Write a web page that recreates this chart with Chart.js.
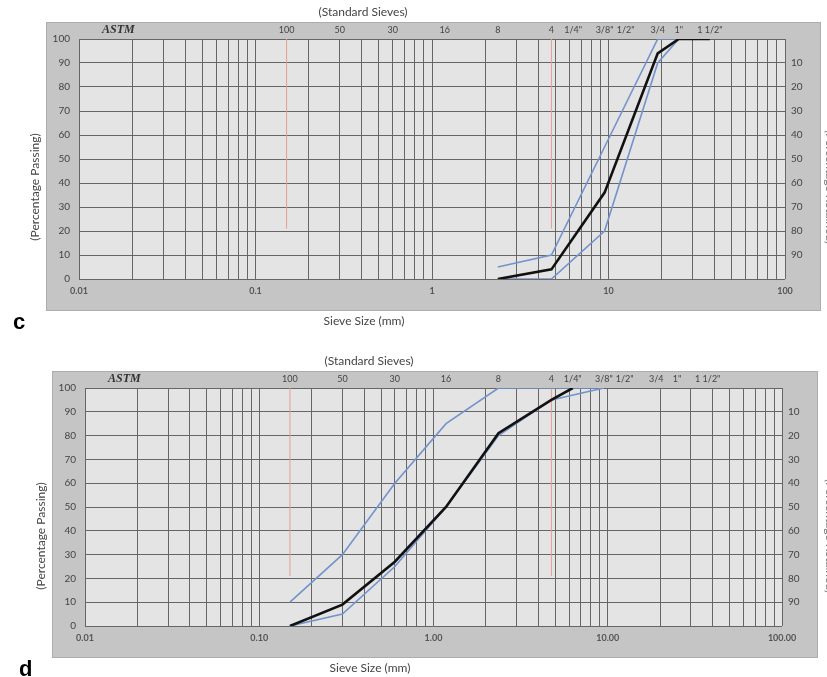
<!DOCTYPE html>
<html>
<head>
<meta charset="utf-8">
<script src="https://cdn.jsdelivr.net/npm/chart.js"></script>
<style>
  body { margin: 0; background: #fff; width: 827px; height: 677px; overflow: hidden; }
  .panel { position: absolute; left: 0; }
</style>
</head>
<body>
<div class="panel" style="top:0"><canvas id="chartC" width="827" height="340"></canvas></div>
<div class="panel" style="top:340px"><canvas id="chartD" width="827" height="337"></canvas></div>
<script>
// ASTM sieve openings (mm) and their names on the top axis
const sieveSizes = [0.15, 0.3, 0.6, 1.18, 2.36, 4.75, 6.3, 9.5, 12.5, 19, 25, 37.5];
const sieveLabels = ['100', '50', '30', '16', '8', '4', '1/4"', '3/8"', '1/2"', '3/4', '1"', '1 1/2"'];

// bottom axis: decades and their labels
const decades = [0.01, 0.1, 1, 10, 100];
const decadeLabelsC = ['0.01', '0.1', '1', '10', '100'];
const decadeLabelsD = ['0.01', '0.10', '1.00', '10.00', '100.00'];
const minorSteps = [1, 2, 3, 4, 5, 6, 7, 8, 9];

const passingTicks = [0, 10, 20, 30, 40, 50, 60, 70, 80, 90, 100];
const retainedTicks = [10, 20, 30, 40, 50, 60, 70, 80, 90];

// chart c - coarse aggregate
const sizesC = [2.36, 4.75, 9.5, 19, 25, 37.5];
const passingC = [0, 4, 36, 94, 100, 100];
const limitSizesC = [2.36, 4.75, 9.5, 19, 25];
const upperC = [5, 10, 55, 100, 100];
const lowerC = [0, 0, 20, 90, 100];

// chart d - fine aggregate
const sizesD = [0.15, 0.3, 0.6, 1.18, 2.36, 4.75, 6.3];
const passingD = [0, 9, 27, 50, 81, 95, 100];
const limitSizesD = [0.15, 0.3, 0.6, 1.18, 2.36, 4.75, 9.5];
const upperD = [10, 30, 60, 85, 100, 100, 100];
const lowerD = [0, 5, 25, 50, 80, 95, 100];

// red marker lines (#100 and #4 sieves)
const markerSizes = [0.15, 4.75];
const markerRange = [21, 100];

const gridValues = [];
decades.slice(0, 4).forEach(d => minorSteps.forEach(m => gridValues.push(d * m)));
gridValues.push(100);

const pts = (xs, ys) => xs.map((x, i) => ({ x: x, y: ys[i] }));

const framePlugin = {
  id: 'frame',
  beforeDraw(chart, args, o) {
    const ctx = chart.ctx, a = chart.chartArea;
    ctx.save();
    ctx.fillStyle = '#c5c5c5';
    ctx.fillRect(a.left - 33, a.top - 17, a.width + 69, a.height + 49);
    ctx.strokeStyle = '#adadad';
    ctx.lineWidth = 1;
    ctx.strokeRect(a.left - 32.5, a.top - 16.5, a.width + 68, a.height + 48);
    ctx.fillStyle = '#e4e4e4';
    ctx.fillRect(a.left, a.top, a.width, a.height);
    ctx.restore();
  },
  afterDraw(chart, args, o) {
    const ctx = chart.ctx, a = chart.chartArea;
    ctx.save();
    ctx.fillStyle = '#333';
    ctx.font = 'italic bold 12px "Liberation Serif"';
    ctx.textBaseline = 'middle';
    ctx.fillText('ASTM', a.left + 23, a.top - 9);

    ctx.fillStyle = '#444';
    ctx.font = '12px Lato';
    ctx.textAlign = 'center';
    ctx.fillText('(Standard Sieves)', a.left + 284, a.top - 27);
    ctx.fillText('Sieve Size (mm)', a.left + 285, a.bottom + 42);

    ctx.save();
    ctx.translate(a.left - 44, a.top + 148);
    ctx.rotate(-Math.PI / 2);
    ctx.fillText('(Percentage Passing)', 0, 0);
    ctx.restore();

    ctx.save();
    ctx.fillStyle = '#777';
    ctx.translate(830, a.top + 148);
    ctx.rotate(Math.PI / 2);
    ctx.fillText('(Percentage Retained)', 0, 0);
    ctx.restore();

    ctx.fillStyle = '#000';
    ctx.font = 'bold 22px "Liberation Sans"';
    ctx.textAlign = 'left';
    ctx.fillText(o.panel, a.left - 66, a.bottom + 44);
    ctx.restore();
  }
};

function makeChart(id, cfg) {
  const datasets = [
    { data: pts(cfg.sizes, cfg.passing), borderColor: '#111', borderWidth: 2.6, order: 0 },
    { data: pts(cfg.limitSizes, cfg.upper), borderColor: '#7393cc', borderWidth: 1.6, order: 1 },
    { data: pts(cfg.limitSizes, cfg.lower), borderColor: '#7393cc', borderWidth: 1.6, order: 1 }
  ];
  markerSizes.forEach(s => datasets.push({
    data: pts([s, s], markerRange), borderColor: '#e39e92', borderWidth: 1, order: 2
  }));

  const gridColor = '#666';
  return new Chart(document.getElementById(id), {
    type: 'line',
    data: { datasets: datasets },
    plugins: [framePlugin],
    options: {
      responsive: false,
      animation: false,
      devicePixelRatio: 1,
      layout: { padding: 0 },
      elements: { point: { radius: 0 }, line: { tension: 0 } },
      plugins: {
        legend: { display: false },
        tooltip: { enabled: false },
        frame: { panel: cfg.panel }
      },
      scales: {
        x: {
          type: 'logarithmic', position: 'bottom', min: 0.01, max: 100,
          afterBuildTicks: s => { s.ticks = gridValues.map(v => ({ value: v })); },
          afterFit: s => { s.height = cfg.bottom; },
          grid: { color: gridColor, lineWidth: 1, drawTicks: false },
          border: { display: false },
          ticks: {
            autoSkip: false, maxRotation: 0, padding: 7,
            color: '#555', font: { family: 'Lato', size: 9, weight: 'bold' },
            callback: v => {
              const i = decades.findIndex(d => Math.abs(v / d - 1) < 1e-6);
              return i < 0 ? '' : cfg.decadeLabels[i];
            }
          }
        },
        xTop: {
          type: 'logarithmic', position: 'top', min: 0.01, max: 100,
          afterBuildTicks: s => { s.ticks = sieveSizes.map(v => ({ value: v })); },
          afterFit: s => { s.height = cfg.top; },
          grid: { display: false, drawTicks: false },
          border: { display: false },
          ticks: {
            autoSkip: false, maxRotation: 0, padding: 4,
            color: '#444', font: { family: 'Lato', size: 9 },
            callback: (v, i) => sieveLabels[i]
          }
        },
        y: {
          position: 'left', min: 0, max: 100,
          afterBuildTicks: s => { s.ticks = passingTicks.map(v => ({ value: v })); },
          afterFit: s => { s.width = cfg.left; },
          grid: { color: gridColor, lineWidth: 1, drawTicks: false },
          border: { display: false },
          ticks: { padding: 9, color: '#444', font: { family: 'Lato', size: 10 } }
        },
        y2: {
          position: 'right', min: 0, max: 100, reverse: true,
          afterBuildTicks: s => { s.ticks = retainedTicks.map(v => ({ value: v })); },
          afterFit: s => { s.width = cfg.right; },
          grid: { display: false, drawTicks: false },
          border: { display: false },
          ticks: { padding: 6, color: '#444', font: { family: 'Lato', size: 10 } }
        }
      }
    }
  });
}

makeChart('chartC', {
  panel: 'c', sizes: sizesC, passing: passingC, limitSizes: limitSizesC,
  upper: upperC, lower: lowerC, decadeLabels: decadeLabelsC,
  left: 79, right: 42, top: 39, bottom: 61
});
makeChart('chartD', {
  panel: 'd', sizes: sizesD, passing: passingD, limitSizes: limitSizesD,
  upper: upperD, lower: lowerD, decadeLabels: decadeLabelsD,
  left: 85, right: 45, top: 48, bottom: 51
});
</script>
</body>
</html>
